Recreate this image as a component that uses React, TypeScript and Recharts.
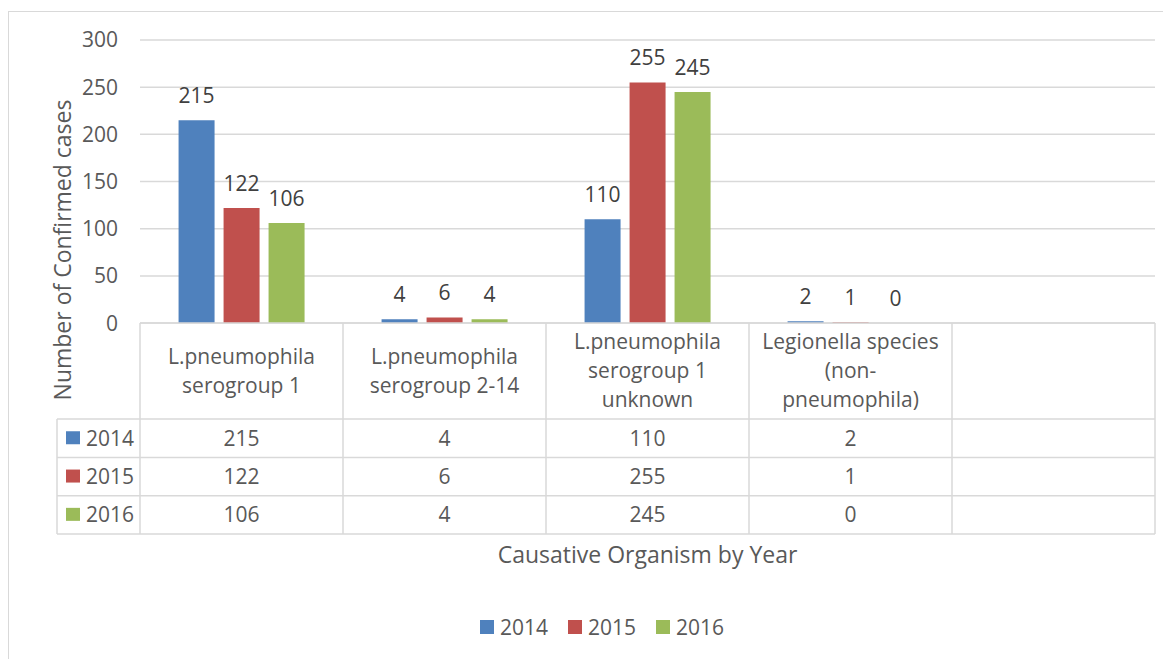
import React from 'react';
import { BarChart, Bar, XAxis, YAxis, CartesianGrid, LabelList, Legend } from 'recharts';

const categories = [
  'L.pneumophila serogroup 1',
  'L.pneumophila serogroup 2-14',
  'L.pneumophila serogroup 1 unknown',
  'Legionella species (non-pneumophila)',
  '',
];
const categoryLines = [
  ['L.pneumophila', 'serogroup 1'],
  ['L.pneumophila', 'serogroup 2-14'],
  ['L.pneumophila', 'serogroup 1', 'unknown'],
  ['Legionella species', '(non-', 'pneumophila)'],
  [],
];
const years = ['2014', '2015', '2016'];
const colors = ['#4f81bd', '#c0504d', '#9bbb59'];
const cases2014 = [215, 4, 110, 2, null];
const cases2015 = [122, 6, 255, 1, null];
const cases2016 = [106, 4, 245, 0, null];
const yTicks = [0, 50, 100, 150, 200, 250, 300];

const seriesValues = [cases2014, cases2015, cases2016];

const data = categories.map((name, i) => ({
  name,
  '2014': cases2014[i],
  '2015': cases2015[i],
  '2016': cases2016[i],
}));

const W = 1171;
const H = 659;
const margin = { top: 40, right: 16, left: 60, bottom: 95 };
const Y_AXIS_W = 80;
const COL_W = (W - margin.left - margin.right - Y_AXIS_W) / categories.length;
const HEADER_H = 96;
const ROW_H = 38.3;
const TABLE_H = HEADER_H + ROW_H * years.length;
const LABEL_COL_W = 83;
const LINE_H = 29;
const GRID = '#d9d9d9';
const TEXT = '#595959';
const FONT = "'Open Sans', sans-serif";

const TableTick = (props: any) => {
  const { x, y, index } = props;
  const left = x - COL_W / 2;
  const right = x + COL_W / 2;
  const lines = categoryLines[index] || [];
  const headerMid = y + HEADER_H / 2;
  const isFirst = index === 0;
  const isLast = index === categories.length - 1;
  const rowLeft = isFirst ? left - LABEL_COL_W : left;

  return (
    <g>
      <line x1={left} y1={y} x2={right} y2={y} stroke={GRID} strokeWidth={1.5} />
      <line x1={left} y1={y} x2={left} y2={y + TABLE_H} stroke={GRID} strokeWidth={1.5} />
      {isLast && <line x1={right} y1={y} x2={right} y2={y + TABLE_H} stroke={GRID} strokeWidth={1.5} />}
      {isFirst && (
        <line x1={rowLeft} y1={y + HEADER_H} x2={rowLeft} y2={y + TABLE_H} stroke={GRID} strokeWidth={1.5} />
      )}
      {[0, 1, 2, 3].map((r) => (
        <line
          key={r}
          x1={rowLeft}
          y1={y + HEADER_H + r * ROW_H}
          x2={right}
          y2={y + HEADER_H + r * ROW_H}
          stroke={GRID}
          strokeWidth={1.5}
        />
      ))}
      {lines.map((t, i) => (
        <text
          key={i}
          x={x}
          y={headerMid + (i - (lines.length - 1) / 2) * LINE_H}
          dy="0.35em"
          textAnchor="middle"
          fill={TEXT}
          fontSize={21}
        >
          {t}
        </text>
      ))}
      {seriesValues.map((vals, r) => (
        <text
          key={r}
          x={x}
          y={y + HEADER_H + (r + 0.5) * ROW_H}
          dy="0.35em"
          textAnchor="middle"
          fill={TEXT}
          fontSize={21}
        >
          {vals[index] == null ? '' : String(vals[index])}
        </text>
      ))}
      {isFirst &&
        years.map((yr, r) => (
          <g key={yr}>
            <rect x={rowLeft + 9} y={y + HEADER_H + (r + 0.5) * ROW_H - 7} width={14} height={13} fill={colors[r]} />
            <text
              x={rowLeft + 29}
              y={y + HEADER_H + (r + 0.5) * ROW_H}
              dy="0.35em"
              fill={TEXT}
              fontSize={21}
            >
              {yr}
            </text>
          </g>
        ))}
    </g>
  );
};

const renderLegend = (props: any) => (
  <div style={{ display: 'flex', alignItems: 'center', height: 30, fontSize: 21, color: TEXT }}>
    {(props.payload || []).map((p: any) => (
      <div key={p.value} style={{ display: 'flex', alignItems: 'center', marginRight: 20 }}>
        <span style={{ display: 'inline-block', width: 14, height: 14, background: p.color, marginRight: 6 }} />
        {p.value}
      </div>
    ))}
  </div>
);

// bar value label, drawn above the bar top (also for zero-height bars)
const renderBarLabel = (props: any) => {
  const { x, y, width, value } = props;
  if (value == null) return null;
  return (
    <text x={x + width / 2} y={y - 17} textAnchor="middle" fill="#404040" fontSize={21}>
      {String(value)}
    </text>
  );
};

const App = () => {
  return (
    <div
      style={{
        position: 'relative',
        width: W,
        height: H,
        marginLeft: -8,
        marginTop: -8,
        overflow: 'hidden',
        background: '#fff',
        fontFamily: FONT,
      }}
    >
      <div
        style={{
          position: 'absolute',
          left: 8,
          top: 11,
          width: W + 20,
          height: H + 20,
          border: `1.5px solid ${GRID}`,
          boxSizing: 'border-box',
        }}
      />
      <BarChart width={W} height={H} data={data} margin={margin} barCategoryGap="19%" barGap={9}>
        <CartesianGrid vertical={false} stroke={GRID} strokeWidth={1.5} />
        <XAxis
          dataKey="name"
          height={TABLE_H}
          interval={0}
          axisLine={false}
          tickLine={false}
          tickSize={0}
          tickMargin={0}
          tick={<TableTick />}
          label={{ value: 'Causative Organism by Year', position: 'bottom', offset: 13, fill: TEXT, fontSize: 23 }}
        />
        <YAxis
          width={Y_AXIS_W}
          domain={[0, 300]}
          ticks={yTicks}
          axisLine={false}
          tickLine={false}
          tickSize={0}
          tickMargin={22}
          tick={{ fill: TEXT, fontSize: 21 }}
          label={{
            content: () => (
              <text
                x={62}
                y={250}
                transform="rotate(-90 62 250)"
                textAnchor="middle"
                dominantBaseline="central"
                fill={TEXT}
                fontSize={23}
              >
                Number of Confirmed cases
              </text>
            ),
          }}
        />
        <Legend content={renderLegend} wrapperStyle={{ top: 612, left: 480, width: 300, height: 30 }} />
        {years.map((yr, i) => (
          <Bar key={yr} dataKey={yr} name={yr} fill={colors[i]} minPointSize={0.01} isAnimationActive={false}>
            <LabelList dataKey={yr} content={renderBarLabel} />
          </Bar>
        ))}
      </BarChart>
    </div>
  );
};

export default App;
